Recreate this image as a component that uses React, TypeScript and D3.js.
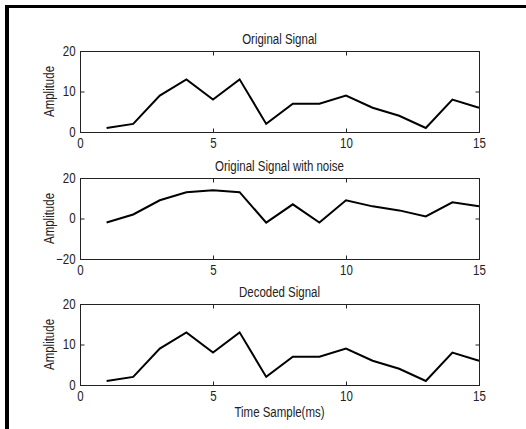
import { useEffect, useRef } from 'react';
import * as d3 from 'd3';

// time samples (ms)
const samples = [1, 2, 3, 4, 5, 6, 7, 8, 9, 10, 11, 12, 13, 14, 15];
const originalSignal = [1, 2, 9, 13, 8, 13, 2, 7, 7, 9, 6, 4, 1, 8, 6];
const noisySignal = [-2, 2, 9, 13, 14, 13, -2, 7, -2, 9, 6, 4, 1, 8, 6];
const decodedSignal = [1, 2, 9, 13, 8, 13, 2, 7, 7, 9, 6, 4, 1, 8, 6];

const panelTitles = ['Original Signal', 'Original Signal with noise', 'Decoded Signal'];
const xTicks = [0, 5, 10, 15];
const yTicksPositive = [0, 10, 20];
const yTicksNoise = [-20, 0, 20];

const WIDTH = 526;
const HEIGHT = 429;
const FONT = '"Liberation Sans", Arial, sans-serif';
const SQUEEZE = 'scale(0.82,1)'; // narrow look of the original

const App = () => {
  const svgRef = useRef<SVGSVGElement | null>(null);

  useEffect(() => {
    const svg = d3.select(svgRef.current);
    svg.selectAll('*').remove();

    svg.append('rect').attr('width', WIDTH).attr('height', HEIGHT).attr('fill', '#fff');

    // black frame, top and left only
    svg.append('rect').attr('x', 5).attr('y', 5).attr('width', WIDTH - 5).attr('height', 3).attr('fill', '#000');
    svg.append('rect').attr('x', 5).attr('y', 5).attr('width', 4).attr('height', HEIGHT - 5).attr('fill', '#000');

    const left = 80;
    const right = 479;
    const plotH = 81;
    const tops = [51, 178, 304];

    const x = d3.scaleLinear().domain([0, 15]).range([left, right]);

    const panels = [
      { data: originalSignal, domain: [0, 20], ticks: yTicksPositive },
      { data: noisySignal, domain: [-20, 20], ticks: yTicksNoise },
      { data: decodedSignal, domain: [0, 20], ticks: yTicksPositive },
    ];

    const label = (sel: any, txt: string, tx: number, ty: number, rot = 0) =>
      sel.append('text')
        .attr('transform', `translate(${tx},${ty}) rotate(${rot}) ${SQUEEZE}`)
        .attr('text-anchor', 'middle')
        .attr('font-family', FONT)
        .attr('font-size', 14)
        .attr('fill', '#222')
        .text(txt);

    panels.forEach((p, i) => {
      const top = tops[i];
      const y = d3.scaleLinear().domain(p.domain).range([top + plotH, top]);
      const g = svg.append('g');

      // plot box
      g.append('rect')
        .attr('x', left + 0.5)
        .attr('y', top + 0.5)
        .attr('width', right - left)
        .attr('height', plotH)
        .attr('fill', '#fff')
        .attr('stroke', '#222')
        .attr('stroke-width', 1);

      const styleAxis = (sel: any, labels: boolean) => {
        sel.select('.domain').remove();
        sel.selectAll('line').attr('stroke', '#222');
        sel.selectAll('text')
          .attr('font-family', FONT)
          .attr('font-size', 14)
          .attr('fill', '#222')
          .attr('transform', SQUEEZE);
        if (!labels) sel.selectAll('text').remove();
        sel.attr('font-family', null).attr('font-size', null);
      };

      g.append('g')
        .attr('transform', `translate(0,${top + plotH + 0.5})`)
        .call(d3.axisBottom(x).tickValues(xTicks).tickSizeInner(-4).tickSizeOuter(0).tickPadding(6).tickFormat(d3.format('d')))
        .call((s: any) => styleAxis(s, true));

      g.append('g')
        .attr('transform', `translate(0,${top + 0.5})`)
        .call(d3.axisTop(x).tickValues(xTicks).tickSizeInner(-4).tickSizeOuter(0))
        .call((s: any) => styleAxis(s, false));

      g.append('g')
        .attr('transform', `translate(${left + 0.5},0)`)
        .call(d3.axisLeft(y).tickValues(p.ticks).tickSizeInner(-4).tickSizeOuter(0).tickPadding(6).tickFormat(d3.format('d')))
        .call((s: any) => styleAxis(s, true));

      g.append('g')
        .attr('transform', `translate(${right + 0.5},0)`)
        .call(d3.axisRight(y).tickValues(p.ticks).tickSizeInner(-4).tickSizeOuter(0))
        .call((s: any) => styleAxis(s, false));

      // clipped signal line
      const clipId = `clip-${i}`;
      svg.append('clipPath').attr('id', clipId)
        .append('rect').attr('x', left).attr('y', top).attr('width', right - left + 1).attr('height', plotH + 1);

      const line = d3.line<number>()
        .x((_, j) => x(samples[j]))
        .y((d) => y(d));

      g.append('path')
        .datum(p.data)
        .attr('clip-path', `url(#${clipId})`)
        .attr('d', line)
        .attr('fill', 'none')
        .attr('stroke', '#000')
        .attr('stroke-width', 2)
        .attr('stroke-linejoin', 'miter');

      label(g, panelTitles[i], (left + right) / 2, top - 7);
      label(g, 'Amplitude', 54, top + plotH / 2, -90);
    });

    label(svg, 'Time Sample(ms)', (left + right) / 2, 417);
  }, []);

  return (
    <svg
      ref={svgRef}
      width={WIDTH}
      height={HEIGHT}
      style={{ position: 'absolute', left: 0, top: 0, display: 'block' }}
    />
  );
};

export default App;
